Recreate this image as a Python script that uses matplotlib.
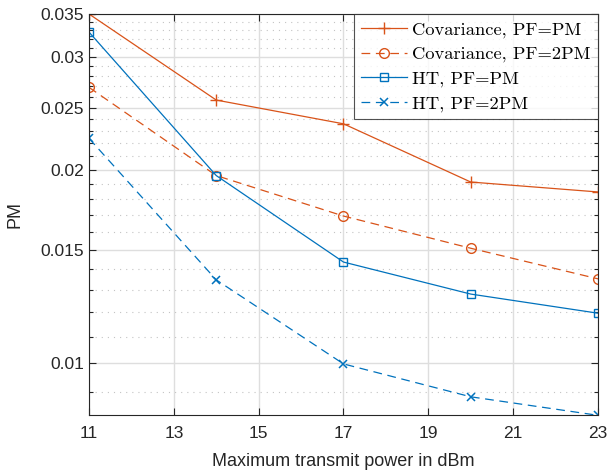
import matplotlib
matplotlib.use("Agg")
import matplotlib.pyplot as plt
from matplotlib.ticker import FixedLocator, FixedFormatter, NullFormatter

# data
power_dbm = [11, 14, 17, 20, 23]
cov_pf_pm = [0.0350, 0.0257, 0.0236, 0.01915, 0.01848]
cov_pf_2pm = [0.0269, 0.0196, 0.01695, 0.0151, 0.01353]
ht_pf_pm = [0.0328, 0.0196, 0.01437, 0.01281, 0.01196]
ht_pf_2pm = [0.0224, 0.01348, 0.00997, 0.00886, 0.00829]

x_ticks = [11, 13, 15, 17, 19, 21, 23]
y_ticks = [0.01, 0.015, 0.02, 0.025, 0.03, 0.035]
y_tick_labels = ["0.01", "0.015", "0.02", "0.025", "0.03", "0.035"]
y_minor = [i / 1000 for i in range(9, 35)]

ORANGE = "#D95319"
BLUE = "#0072BD"
AX_COLOR = "#262626"

plt.rcParams["font.family"] = ["Liberation Sans", "DejaVu Sans"]

fig = plt.figure(figsize=(6.11, 4.70), dpi=100)
ax = fig.add_axes([89 / 611, 55 / 470, 509 / 611, 401 / 470])

ax.plot(power_dbm, cov_pf_pm, "-", color=ORANGE, marker="+", ms=8, mew=1.0,
        lw=0.9, label="Covariance, PF=PM")
ax.plot(power_dbm, cov_pf_2pm, "--", color=ORANGE, marker="o", ms=7, mfc="none",
        mew=1.0, lw=0.9, dashes=(7, 4.5), label="Covariance, PF=2PM")
ax.plot(power_dbm, ht_pf_pm, "-", color=BLUE, marker="s", ms=5.5, mfc="none",
        mew=1.0, lw=0.9, label="HT, PF=PM")
ax.plot(power_dbm, ht_pf_2pm, "--", color=BLUE, marker="x", ms=6, mew=1.1,
        lw=0.9, dashes=(7, 4.5), label="HT, PF=2PM")

ax.set_yscale("log")
ax.set_xlim(11, 23)
ax.set_ylim(0.0083, 0.035)
ax.xaxis.set_major_locator(FixedLocator(x_ticks))
ax.yaxis.set_major_locator(FixedLocator(y_ticks))
ax.yaxis.set_major_formatter(FixedFormatter(y_tick_labels))
ax.yaxis.set_minor_locator(FixedLocator(y_minor))
ax.yaxis.set_minor_formatter(NullFormatter())

ax.grid(True, which="major", color="#dedede", lw=1.0, ls="-")
ax.grid(True, which="minor", axis="y", color="#c4c4c4", lw=0.8, ls=(0, (1, 4.5)))
ax.set_axisbelow(True)

ax.tick_params(which="both", direction="in", top=True, right=True,
               colors=AX_COLOR, labelsize=12.5, labelcolor="#262626")
ax.tick_params(which="major", length=5, width=0.8)
ax.tick_params(which="minor", length=3, width=0.8)
ax.tick_params(axis="x", pad=8)
for s in ax.spines.values():
    s.set_color(AX_COLOR)
    s.set_linewidth(0.8)

ax.set_xlabel("Maximum transmit power in dBm", fontsize=13, color="#262626")
ax.set_ylabel("PM", fontsize=13, color="#262626")
ax.xaxis.set_label_coords(0.5, -0.094)
ax.yaxis.set_label_coords(-0.129, 0.5)

leg = ax.legend(loc="upper right", prop={"family": "cmr10", "size": 13.3},
                frameon=True, fancybox=False, edgecolor=AX_COLOR, borderaxespad=0,
                handlelength=2.5, handletextpad=0.27, labelspacing=0.45,
                borderpad=0.4)
leg.get_frame().set_linewidth(0.8)

fig.savefig("out.png", dpi=100)
